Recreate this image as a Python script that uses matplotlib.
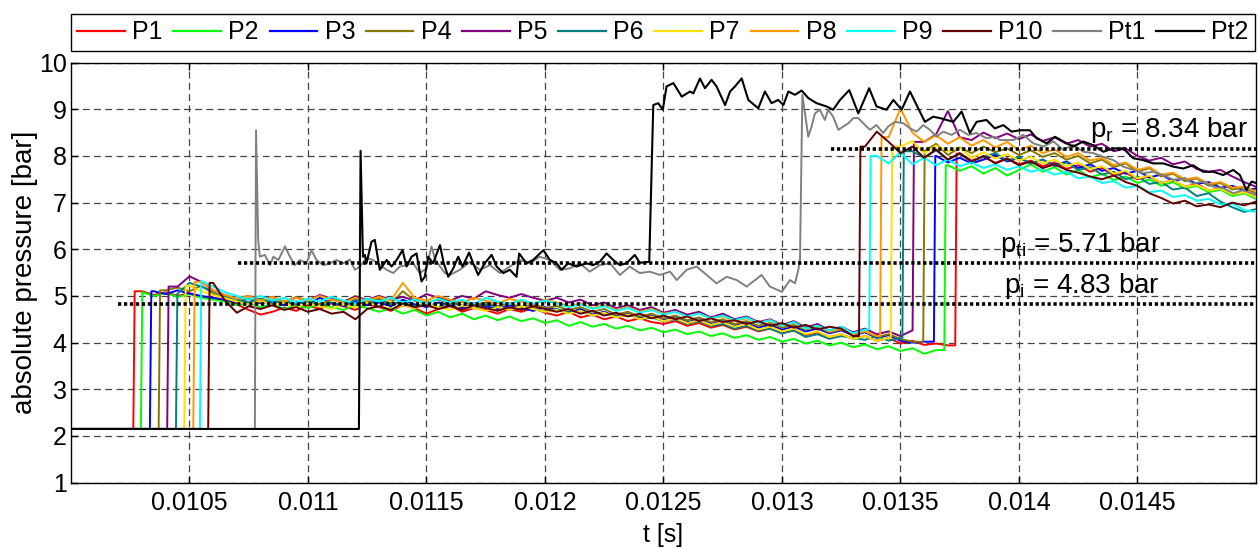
import numpy as np
import matplotlib
matplotlib.use("Agg")
import matplotlib.pyplot as plt

# --- DATA ---
# P1..P10 sampled every 50 us from 0.01025 s to 0.01500 s
t_grid = np.linspace(0.01025, 0.01500, 96)
pre_level = 2.15

p1 = [2.15,
      5.10, 5.02, 5.08, 5.00, 5.06, 4.98, 4.95,
      4.90, 4.82, 4.70, 4.60, 4.66, 4.75, 4.68, 4.80, 4.72, 4.85, 4.78, 4.70, 4.82,
      4.76, 4.68, 4.80, 4.74, 4.62, 4.72, 4.80, 4.66, 4.74, 4.70, 4.62, 4.72, 4.66, 4.74, 4.64,
      4.58, 4.66, 4.54, 4.60, 4.50, 4.56, 4.46, 4.52, 4.44, 4.40, 4.46, 4.36, 4.42, 4.32, 4.38,
      4.28, 4.34, 4.24, 4.30, 4.20, 4.26, 4.16, 4.22, 4.12, 4.18, 4.08, 4.14, 4.04, 4.10, 3.98, 4.04, 3.95, 3.98, 3.94,
      8.05, 7.90, 7.98, 7.85, 7.95, 7.82, 7.90, 7.78, 7.86, 7.72, 7.80, 7.66, 7.74, 7.58, 7.64, 7.50,
      7.56, 7.42, 7.48, 7.34, 7.40, 7.26, 7.30, 7.18, 7.22, 7.10]
p2 = [2.15,
      5.08, 5.00, 5.06, 4.98, 5.04, 4.96, 4.92,
      4.88, 4.80, 4.86, 4.76, 4.82, 4.72, 4.80, 4.74, 4.84, 4.76, 4.70, 4.80, 4.74,
      4.66, 4.74, 4.62, 4.70, 4.58, 4.66, 4.54, 4.62, 4.50, 4.58, 4.48, 4.56, 4.46, 4.52, 4.42,
      4.48, 4.36, 4.44, 4.34, 4.40, 4.30, 4.36, 4.26, 4.32, 4.22, 4.28, 4.18, 4.24, 4.14, 4.20,
      4.10, 4.16, 4.06, 4.12, 4.02, 4.08, 3.98, 4.04, 3.94, 4.00, 3.90, 3.96, 3.86, 3.92, 3.82, 3.88, 3.76, 3.84,
      7.80, 7.68, 7.78, 7.62, 7.74, 7.58, 7.70, 7.82, 7.66, 7.76, 7.60, 7.70, 7.54, 7.62, 7.48, 7.56,
      7.42, 7.50, 7.36, 7.44, 7.30, 7.36, 7.22, 7.28, 7.14, 7.20, 7.08]
p3 = [2.15, 2.15,
      5.10, 5.04, 5.12, 5.05, 5.00, 4.96,
      4.92, 4.86, 4.94, 4.84, 4.90, 4.80, 4.88, 4.82, 4.96, 4.84, 4.78, 4.88, 4.80,
      4.86, 4.78, 4.92, 4.82, 4.76, 4.86, 4.80, 4.74, 4.84, 4.78, 4.72, 4.80, 4.74, 4.68, 4.76,
      4.70, 4.64, 4.72, 4.60, 4.66, 4.56, 4.62, 4.52, 4.58, 4.48, 4.54, 4.44, 4.50, 4.40, 4.46,
      4.36, 4.42, 4.32, 4.38, 4.28, 4.34, 4.24, 4.30, 4.20, 4.26, 4.16, 4.22, 4.10, 4.16, 4.04, 4.00, 4.02,
      8.00, 7.86, 7.96, 7.84, 7.92, 8.02, 7.88, 7.96, 7.84, 7.92, 7.80, 7.88, 7.74, 7.82, 7.68, 7.74,
      7.62, 7.68, 7.54, 7.60, 7.46, 7.52, 7.40, 7.44, 7.32, 7.36, 7.26, 7.30]
p4 = [2.15, 2.15, 2.15,
      5.12, 5.18, 5.10, 5.22, 5.05,
      4.96, 4.88, 4.94, 4.86, 4.92, 4.84, 4.98, 4.88, 4.82, 4.92, 4.86, 5.00, 4.88,
      4.94, 4.84, 5.10, 4.90, 4.86, 4.92, 4.84, 4.88, 4.80, 4.86, 4.78, 4.84, 4.76, 4.82, 4.74,
      4.78, 4.70, 4.76, 4.66, 4.72, 4.60, 4.66, 4.56, 4.62, 4.52, 4.58, 4.48, 4.54, 4.44, 4.50,
      4.40, 4.46, 4.36, 4.42, 4.32, 4.38, 4.28, 4.34, 4.22, 4.28, 4.18, 4.24, 4.12, 4.18, 4.08, 4.02,
      8.10, 8.26, 8.02, 8.18, 8.06, 8.20, 8.08, 8.16, 8.02, 8.12, 7.98, 8.06, 7.92, 8.00, 7.84, 7.92,
      7.76, 7.84, 7.66, 7.74, 7.56, 7.62, 7.46, 7.52, 7.36, 7.42, 7.28, 7.32, 7.20]
p5 = [2.15, 2.15, 2.15, 2.15,
      5.20, 5.42, 5.30, 5.12,
      5.02, 4.94, 5.00, 4.92, 4.98, 4.88, 4.96, 4.90, 5.02, 4.94, 4.88, 4.98, 4.92,
      5.00, 4.92, 4.98, 4.90, 5.04, 4.96, 4.90, 5.00, 4.94, 5.10, 5.02, 4.96, 5.04, 4.96, 4.90,
      4.96, 4.86, 4.92, 4.80, 4.86, 4.74, 4.80, 4.70, 4.76, 4.64, 4.70, 4.60, 4.66, 4.54, 4.62,
      4.50, 4.56, 4.44, 4.50, 4.38, 4.46, 4.32, 4.40, 4.26, 4.34, 4.22, 4.30, 4.18, 4.24, 4.14, 4.26,
      8.30, 8.46, 8.96, 8.40, 8.34, 8.50, 8.38, 8.48, 8.36, 8.46, 8.32, 8.40, 8.26, 8.34, 8.20, 8.26,
      8.10, 8.16, 8.00, 7.90, 7.96, 7.82, 7.88, 7.72, 7.66, 7.70, 7.56, 7.44, 7.34]
p6 = [2.15, 2.15, 2.15, 2.15,
      5.05, 5.28, 5.20, 5.10,
      5.00, 4.92, 4.86, 4.94, 4.84, 4.90, 4.82, 4.88, 4.78, 4.86, 4.80, 4.92, 4.84,
      4.90, 4.82, 4.86, 4.78, 4.84, 4.76, 4.86, 4.80, 4.74, 4.82, 4.76, 4.70, 4.78, 4.72, 4.66,
      4.72, 4.64, 4.68, 4.58, 4.64, 4.54, 4.60, 4.50, 4.54, 4.46, 4.50, 4.40, 4.46, 4.36, 4.40,
      4.30, 4.36, 4.26, 4.30, 4.20, 4.26, 4.12, 4.18, 4.08, 4.14, 4.10, 4.06, 4.14, 4.04, 4.10,
      8.10, 7.96, 8.12, 7.92, 8.04, 7.88, 7.98, 8.06, 7.90, 7.98, 7.84, 7.92, 7.78, 7.86, 7.70, 7.76,
      7.60, 7.66, 7.50, 7.56, 7.40, 7.44, 7.28, 7.32, 7.14, 7.20, 7.02, 6.90, 6.80, 6.86]
p7 = [2.15, 2.15, 2.15, 2.15, 2.15,
      5.22, 5.10, 5.02,
      4.95, 4.88, 4.82, 4.90, 4.80, 4.86, 4.76, 4.84, 4.78, 4.72, 4.82, 4.76, 4.86,
      4.78, 4.72, 4.80, 4.74, 4.84, 4.76, 4.70, 4.80, 4.74, 4.68, 4.76, 4.70, 4.78, 4.72, 4.66,
      4.70, 4.62, 4.68, 4.58, 4.64, 4.54, 4.60, 4.50, 4.56, 4.46, 4.52, 4.42, 4.48, 4.38, 4.44,
      4.34, 4.40, 4.28, 4.34, 4.24, 4.30, 4.18, 4.24, 4.12, 4.18, 4.08, 4.14, 4.04, 4.10,
      8.20, 8.32, 8.06, 8.22, 8.10, 8.18, 7.96, 8.08, 7.94, 8.04, 7.90, 7.98, 7.84, 7.92, 7.78, 7.86,
      7.72, 7.78, 7.62, 7.68, 7.52, 7.58, 7.42, 7.48, 7.34, 7.38, 7.26, 7.30, 7.18, 7.22, 7.12]
p8 = [2.15, 2.15, 2.15, 2.15, 2.15, 2.15,
      5.30, 5.12,
      5.02, 4.94, 5.00, 4.90, 4.98, 4.88, 4.96, 4.90, 5.00, 4.92, 4.86, 4.96, 4.90,
      4.98, 4.90, 5.28, 4.96, 4.90, 5.00, 4.92, 4.86, 4.96, 4.90, 4.84, 4.94, 4.88, 4.82, 4.92,
      4.86, 4.78, 4.84, 4.74, 4.80, 4.70, 4.76, 4.66, 4.72, 4.62, 4.66, 4.56, 4.62, 4.52, 4.56,
      4.46, 4.52, 4.42, 4.48, 4.36, 4.42, 4.30, 4.36, 4.24, 4.30, 4.18, 4.24, 4.14,
      8.40, 9.02, 8.50, 8.30, 8.44, 8.26, 8.40, 8.22, 8.34, 8.18, 8.30, 8.12, 8.22, 8.06, 8.14, 7.98,
      8.06, 7.90, 7.96, 7.80, 7.86, 7.70, 7.76, 7.60, 7.64, 7.50, 7.54, 7.40, 7.44, 7.32, 7.34, 7.24]
p9 = [2.15, 2.15, 2.15, 2.15, 2.15, 2.15,
      5.32, 5.20,
      5.08, 5.00, 4.92, 5.00, 4.90, 4.96, 4.86, 4.94, 4.88, 4.98, 4.90, 4.84, 4.94,
      4.88, 4.96, 4.86, 4.92, 4.84, 4.94, 4.86, 4.92, 4.82, 4.96, 4.88, 4.82, 4.92, 4.84, 4.90,
      4.84, 4.76, 4.82, 4.72, 4.78, 4.68, 4.74, 4.64, 4.70, 4.60, 4.66, 4.56, 4.62, 4.52, 4.58,
      4.48, 4.54, 4.42, 4.48, 4.36, 4.44, 4.30, 4.36, 4.26, 4.34, 4.20, 4.28,
      8.00, 7.84, 8.08, 7.82, 7.96, 7.80, 7.92, 7.78, 7.86, 7.74, 7.82, 7.70, 7.78, 7.66, 7.72, 7.60,
      7.66, 7.52, 7.56, 7.42, 7.46, 7.32, 7.36, 7.22, 7.26, 7.12, 7.16, 7.04, 7.08, 6.96, 6.98, 6.84, 6.80]
p10 = [2.15, 2.15, 2.15, 2.15, 2.15, 2.15, 2.15,
       5.28,
       4.90, 4.64, 4.78, 4.72, 4.80, 4.70, 4.76, 4.66, 4.72, 4.62, 4.66, 4.50, 4.72,
       4.78, 4.70, 4.84, 4.76, 4.80, 4.72, 4.78, 4.70, 4.80, 4.74, 4.68, 4.76, 4.70, 4.78, 4.72,
       4.66, 4.72, 4.62, 4.68, 4.58, 4.64, 4.56, 4.62, 4.52, 4.58, 4.50, 4.56, 4.46, 4.52, 4.44,
       4.48, 4.40, 4.46, 4.36, 4.42, 4.32, 4.38, 4.28, 4.34, 4.30, 4.14,
       8.20, 8.52, 8.30, 8.06, 8.20, 7.96, 8.14, 7.92, 8.06, 7.88, 8.00, 7.84, 7.94, 7.80, 7.88, 7.74,
       7.82, 7.70, 7.64, 7.56, 7.50, 7.58, 7.44, 7.36, 7.20, 7.10, 6.98, 7.04, 6.92, 6.96, 6.90, 7.00,
       6.94, 7.02]

p_series = [p1, p2, p3, p4, p5, p6, p7, p8, p9, p10]
# arrival times of the incident and the reflected shock at each sensor [s]
jump1 = [0.010263, 0.010295, 0.010333, 0.010370, 0.010406,
         0.010443, 0.010478, 0.010516, 0.010544, 0.010579]
jump2 = [0.013731, 0.013685, 0.013641, 0.013596, 0.013551,
         0.013508, 0.013459, 0.013414, 0.013368, 0.013325]

pt1_t = [0.01000, 0.010776, 0.010781, 0.010788, 0.010790, 0.010797,
         0.010818, 0.010840, 0.010854, 0.010875, 0.010903, 0.010924, 0.010945, 0.010966,
         0.010994, 0.011015, 0.011036, 0.011065, 0.011093, 0.011121, 0.011149, 0.011177,
         0.011198, 0.011219, 0.011247, 0.011275, 0.011303, 0.011332, 0.011360, 0.011388,
         0.011416, 0.011444, 0.011472, 0.011500, 0.011521, 0.011535, 0.011557, 0.011578,
         0.011599, 0.011641, 0.011683, 0.011725, 0.011768, 0.011810, 0.011852, 0.011894,
         0.011936, 0.011978, 0.012021, 0.012063, 0.012105, 0.012147, 0.012189, 0.012231,
         0.012274, 0.012316, 0.012358, 0.012400, 0.012442, 0.012485, 0.012528, 0.012556,
         0.012598, 0.012640, 0.012682, 0.012724, 0.012767, 0.012809, 0.012851, 0.012879,
         0.012914, 0.012949, 0.012999, 0.013034, 0.013055, 0.013069, 0.013076, 0.013086,
         0.013097, 0.013111, 0.013125, 0.013139, 0.013160, 0.013181, 0.013195, 0.013216,
         0.013238, 0.013259, 0.013280, 0.013301, 0.013322, 0.013343, 0.013371, 0.013399,
         0.013427, 0.013448, 0.013477, 0.013512, 0.013540, 0.013568, 0.013596, 0.013624,
         0.013652, 0.013680, 0.013716, 0.013751, 0.013786, 0.013821, 0.013863, 0.013898,
         0.013920, 0.013976, 0.014018, 0.014060, 0.014103, 0.014145, 0.014187, 0.014229,
         0.014271, 0.014313, 0.014356, 0.014398, 0.014440, 0.014482, 0.014524, 0.014566,
         0.014609, 0.014651, 0.014693, 0.014735, 0.014777, 0.014820, 0.014862, 0.014904,
         0.014946, 0.015000]
pt1_p = [2.15, 2.15, 8.55, 6.77, 6.20, 5.84,
         5.88, 5.66, 5.84, 5.77, 6.06, 5.84, 5.66, 5.77,
         5.70, 5.98, 5.77, 5.66, 5.70, 5.77, 5.70, 5.78,
         5.56, 5.63, 5.81, 5.77, 5.66, 5.56, 5.49, 5.63,
         5.66, 5.70, 5.49, 5.59, 6.06, 5.81, 5.63, 5.49,
         5.45, 5.56, 5.73, 5.56, 5.66, 5.49, 5.63, 5.77,
         5.70, 5.84, 5.77, 5.56, 5.59, 5.70, 5.52, 5.66,
         5.70, 5.45, 5.63, 5.49, 5.52, 5.45, 5.52, 5.34,
         5.56, 5.63, 5.45, 5.27, 5.41, 5.34, 5.20, 5.31,
         5.45, 5.20, 5.09, 5.34, 5.27, 5.56, 5.77, 9.31,
         8.91, 8.41, 8.63, 8.91, 8.99, 8.77, 8.99, 8.84,
         8.56, 8.63, 8.70, 8.81, 8.81, 8.70, 8.56, 8.66,
         8.49, 8.63, 8.73, 8.70, 8.59, 8.52, 8.66, 8.56,
         8.41, 8.52, 8.45, 8.56, 8.45, 8.49, 8.38, 8.41,
         8.34, 8.34, 8.45, 8.27, 8.20, 8.31, 8.13, 8.24,
         8.09, 8.06, 7.98, 7.91, 7.77, 7.70, 7.63, 7.66,
         7.59, 7.49, 7.52, 7.41, 7.45, 7.34, 7.31, 7.20,
         7.27, 7.16]

pt2_t = [0.01000, 0.011215, 0.011222, 0.011232, 0.011240, 0.011247, 0.011268, 0.011282,
         0.011303, 0.011332, 0.011353, 0.011374, 0.011399, 0.011416, 0.011437, 0.011458,
         0.011479, 0.011493, 0.011507, 0.011528, 0.011557, 0.011573, 0.011592, 0.011613,
         0.011634, 0.011652, 0.011680, 0.011697, 0.011718, 0.011746, 0.011775, 0.011796,
         0.011824, 0.011852, 0.011880, 0.011891, 0.011922, 0.011950, 0.011993, 0.012021,
         0.012049, 0.012070, 0.012098, 0.012133, 0.012175, 0.012203, 0.012231, 0.012260,
         0.012288, 0.012316, 0.012344, 0.012379, 0.012400, 0.012440, 0.012457, 0.012478,
         0.012497, 0.012513, 0.012542, 0.012577, 0.012612, 0.012626, 0.012654, 0.012675,
         0.012703, 0.012724, 0.012760, 0.012781, 0.012802, 0.012830, 0.012858, 0.012900,
         0.012928, 0.012956, 0.012984, 0.013006, 0.013027, 0.013055, 0.013083, 0.013111,
         0.013146, 0.013188, 0.013216, 0.013245, 0.013284, 0.013322, 0.013368, 0.013399,
         0.013441, 0.013470, 0.013505, 0.013540, 0.013568, 0.013603, 0.013638, 0.013667,
         0.013723, 0.013758, 0.013793, 0.013821, 0.013863, 0.013898, 0.013934, 0.013969,
         0.014004, 0.014046, 0.014074, 0.014117, 0.014152, 0.014187, 0.014229, 0.014271,
         0.014313, 0.014356, 0.014398, 0.014440, 0.014482, 0.014524, 0.014566, 0.014609,
         0.014651, 0.014693, 0.014735, 0.014777, 0.014820, 0.014862, 0.014904, 0.014932,
         0.014960, 0.014981, 0.015000]
pt2_p = [2.15, 2.15, 8.11, 5.84, 5.88, 5.70, 6.16, 6.20,
         5.56, 5.77, 5.63, 5.77, 5.98, 5.63, 5.84, 5.91,
         5.31, 5.41, 5.84, 5.70, 6.09, 5.70, 5.41, 5.59,
         5.84, 5.63, 5.93, 5.70, 5.45, 5.70, 5.88, 5.63,
         5.49, 5.56, 5.41, 5.91, 5.70, 5.77, 5.98, 5.77,
         5.70, 5.56, 5.70, 5.63, 5.70, 5.66, 5.73, 5.91,
         5.77, 5.66, 5.70, 5.88, 5.71, 5.73, 9.09, 9.13,
         8.99, 9.49, 9.56, 9.27, 9.38, 9.34, 9.66, 9.45,
         9.63, 9.49, 9.09, 9.38, 9.49, 9.66, 9.20, 9.02,
         9.38, 9.13, 9.20, 9.09, 9.38, 9.31, 9.40, 9.24,
         9.13, 9.06, 8.99, 9.20, 9.41, 8.91, 9.45, 9.06,
         8.99, 9.20, 8.99, 9.38, 9.09, 8.73, 8.84, 8.81,
         8.73, 8.95, 8.49, 8.73, 8.77, 8.59, 8.66, 8.52,
         8.55, 8.55, 8.38, 8.27, 8.41, 8.31, 8.20, 8.31,
         8.23, 8.09, 8.16, 8.16, 7.95, 7.91, 7.84, 7.84,
         7.77, 7.73, 7.80, 7.66, 7.66, 7.59, 7.70, 7.59,
         7.27, 7.45, 7.42]

labels = ["P1", "P2", "P3", "P4", "P5", "P6", "P7", "P8", "P9", "P10", "Pt1", "Pt2"]
colors = ["#ff0000", "#00ff00", "#0000ff", "#857800", "#800080", "#008080",
          "#ffe000", "#ff9900", "#00ffff", "#600000", "#808080", "#000000"]

# reference levels: level drawn, start time, label and label position
ref_levels = [4.83, 5.71, 8.15]
ref_start = [0.01020, 0.010705, 0.013205]
ref_text = [r"$\mathregular{p_i}$ = 4.83 bar", r"$\mathregular{p_{ti}}$ = 5.71 bar",
            r"$\mathregular{p_r}$ = 8.34 bar"]
text_t = [0.013935, 0.013920, 0.014300]
text_p = [5.06, 5.95, 8.41]

xticks = [0.0105, 0.011, 0.0115, 0.012, 0.0125, 0.013, 0.0135, 0.014, 0.0145]
xticklabels = ["0.0105", "0.011", "0.0115", "0.012", "0.0125", "0.013", "0.0135", "0.014", "0.0145"]


def trace(vals, j1, j2):
    v = np.asarray(vals)
    pre = t_grid < j1
    mid = (t_grid > j1) & (t_grid < j2)
    post = t_grid > j2
    d = 6e-6
    t = np.concatenate([[0.0100], t_grid[pre], [j1, j1 + d], t_grid[mid],
                        [j2, j2 + d], t_grid[post]])
    p = np.concatenate([[pre_level], v[pre], [pre_level, v[mid][0]], v[mid],
                        [v[mid][-1], v[post][0]], v[post]])
    return t, p


plt.rcParams["font.family"] = ["Liberation Sans", "DejaVu Sans"]
plt.rcParams["mathtext.fontset"] = "custom"
plt.rcParams["mathtext.rm"] = "Liberation Sans"
plt.rcParams["mathtext.it"] = "Liberation Sans"
plt.rcParams["mathtext.default"] = "regular"

fig = plt.figure(figsize=(12.58, 5.47), dpi=100)
ax = fig.add_axes([0.0564, 0.1177, 0.942, 0.7679])

handles = []
for vals, j1, j2, c, lab in zip(p_series, jump1, jump2, colors, labels):
    t, p = trace(vals, j1, j2)
    h, = ax.plot(t, p, color=c, lw=1.4, label=lab, zorder=3)
    handles.append(h)
h, = ax.plot(pt1_t, pt1_p, color=colors[10], lw=1.4, label=labels[10], zorder=3)
handles.append(h)
h, = ax.plot(pt2_t, pt2_p, color=colors[11], lw=1.5, label=labels[11], zorder=3)
handles.append(h)

for lvl, t0 in zip(ref_levels, ref_start):
    ax.plot([t0, 0.0150], [lvl, lvl], color="black", lw=2.6,
            linestyle=(0, (0.9, 0.75)), zorder=4)
for s, tx, py in zip(ref_text, text_t, text_p):
    ax.text(tx, py, s, fontsize=20, ha="left", va="baseline", zorder=5)

ax.set_xlim(0.0100, 0.0150)
ax.set_ylim(1, 10)
ax.set_xticks(xticks)
ax.set_xticklabels(xticklabels)
ax.set_yticks(range(1, 11))
ax.tick_params(direction="in", length=5, width=1, top=True, right=True,
               labelsize=18, colors="black")
ax.tick_params(axis="x", pad=6)
ax.tick_params(axis="y", pad=3)
ax.grid(True, color="#444444", lw=0.9, linestyle=(0, (5.5, 3.5)), zorder=1)
for sp in ax.spines.values():
    sp.set_linewidth(1.0)

ax.set_xlabel("t [s]", fontsize=18, labelpad=6)
ax.set_ylabel("absolute pressure [bar]", fontsize=20, labelpad=1)

leg = ax.legend(handles=handles, loc="center", ncol=12, mode="expand",
                bbox_to_anchor=(0.0564, 0.9044, 0.9412, 0.0724),
                bbox_transform=fig.transFigure, borderaxespad=0,
                fancybox=False, edgecolor="black", framealpha=1,
                fontsize=18, handlelength=1.9, handletextpad=0.3,
                columnspacing=0.3, borderpad=0.25)
leg.get_frame().set_linewidth(1.0)
for line in leg.get_lines():
    line.set_linewidth(1.6)

fig.savefig("out.png", dpi=100)
